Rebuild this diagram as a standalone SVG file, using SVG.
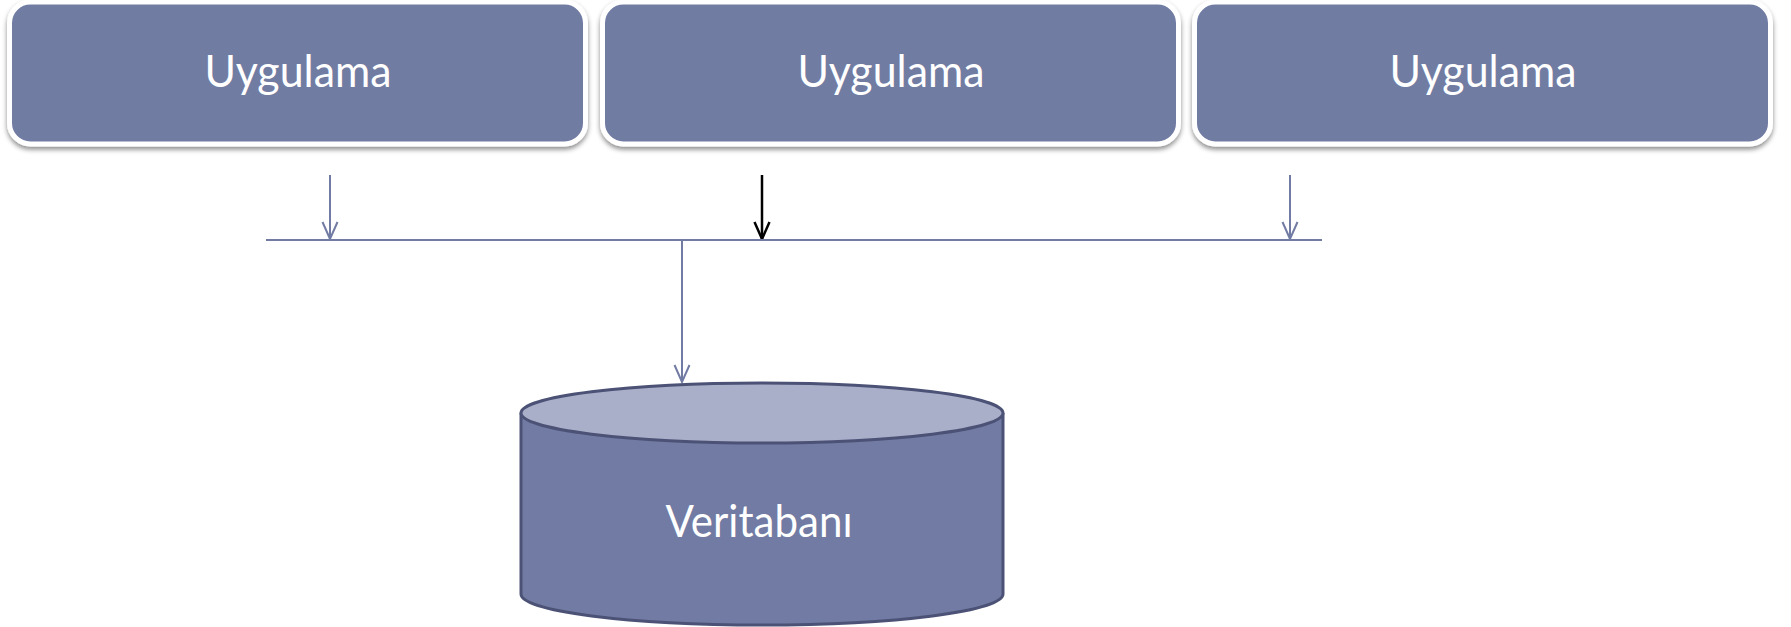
<svg xmlns="http://www.w3.org/2000/svg" width="1791" height="627" viewBox="0 0 1791 627">
<style>
.box{fill:#717BA3;stroke:#FFFFFF;stroke-width:5}
.lbl{font-family:Lato,"Open Sans","Liberation Sans",sans-serif;font-size:45px;fill:#FFFFFF;text-anchor:middle}
.ln{stroke:#717BA3;stroke-width:2;fill:none}
.blk{stroke:#000000;stroke-width:2.5;fill:none}
</style>
<defs>
<filter id="sh" x="-5%" y="-10%" width="110%" height="125%">
<feDropShadow dx="0" dy="3" stdDeviation="2.5" flood-color="#000000" flood-opacity="0.45"/>
</filter>
<marker id="av" markerWidth="20" markerHeight="18" refX="18" refY="9" orient="auto" markerUnits="userSpaceOnUse" viewBox="0 0 20 18">
<path d="M1,1.5 L18,9 L1,16.5" fill="none" stroke="#717BA3" stroke-width="2"/>
</marker>
<marker id="ab" markerWidth="20" markerHeight="18" refX="18" refY="9" orient="auto" markerUnits="userSpaceOnUse" viewBox="0 0 20 18">
<path d="M1,1.5 L18,9 L1,16.5" fill="none" stroke="#000000" stroke-width="2.5"/>
</marker>
</defs>
<rect width="1791" height="627" fill="#FFFFFF"/>
<g id="app1">
<rect class="box" x="9.5" y="2" width="576" height="142" rx="21" filter="url(#sh)"/>
<text class="lbl" x="298" y="87" textLength="187" lengthAdjust="spacingAndGlyphs">Uygulama</text>
</g>
<g id="app2">
<rect class="box" x="602.5" y="2" width="576" height="142" rx="21" filter="url(#sh)"/>
<text class="lbl" x="891" y="87" textLength="187" lengthAdjust="spacingAndGlyphs">Uygulama</text>
</g>
<g id="app3">
<rect class="box" x="1194.5" y="2" width="576" height="142" rx="21" filter="url(#sh)"/>
<text class="lbl" x="1483" y="87" textLength="187" lengthAdjust="spacingAndGlyphs">Uygulama</text>
</g>
<g id="connectors">
<line class="ln" x1="330" y1="175" x2="330" y2="239" marker-end="url(#av)"/>
<line class="blk" x1="762" y1="175" x2="762" y2="239" marker-end="url(#ab)"/>
<line class="ln" x1="1290" y1="175" x2="1290" y2="239" marker-end="url(#av)"/>
<line class="ln" x1="266" y1="240" x2="1322" y2="240"/>
<line class="ln" x1="682" y1="240" x2="682" y2="382" marker-end="url(#av)"/>
</g>
<g id="db">
<path d="M521,413 L521,594 A241,31 0 0 0 1003,594 L1003,413" fill="#717BA3" stroke="#4B5276" stroke-width="3"/>
<ellipse cx="762" cy="413" rx="241" ry="30" fill="#A9AFC8" stroke="#4B5276" stroke-width="3"/>
<text class="lbl" x="759" y="537" textLength="187" lengthAdjust="spacingAndGlyphs">Veritabanı</text>
</g>
</svg>
